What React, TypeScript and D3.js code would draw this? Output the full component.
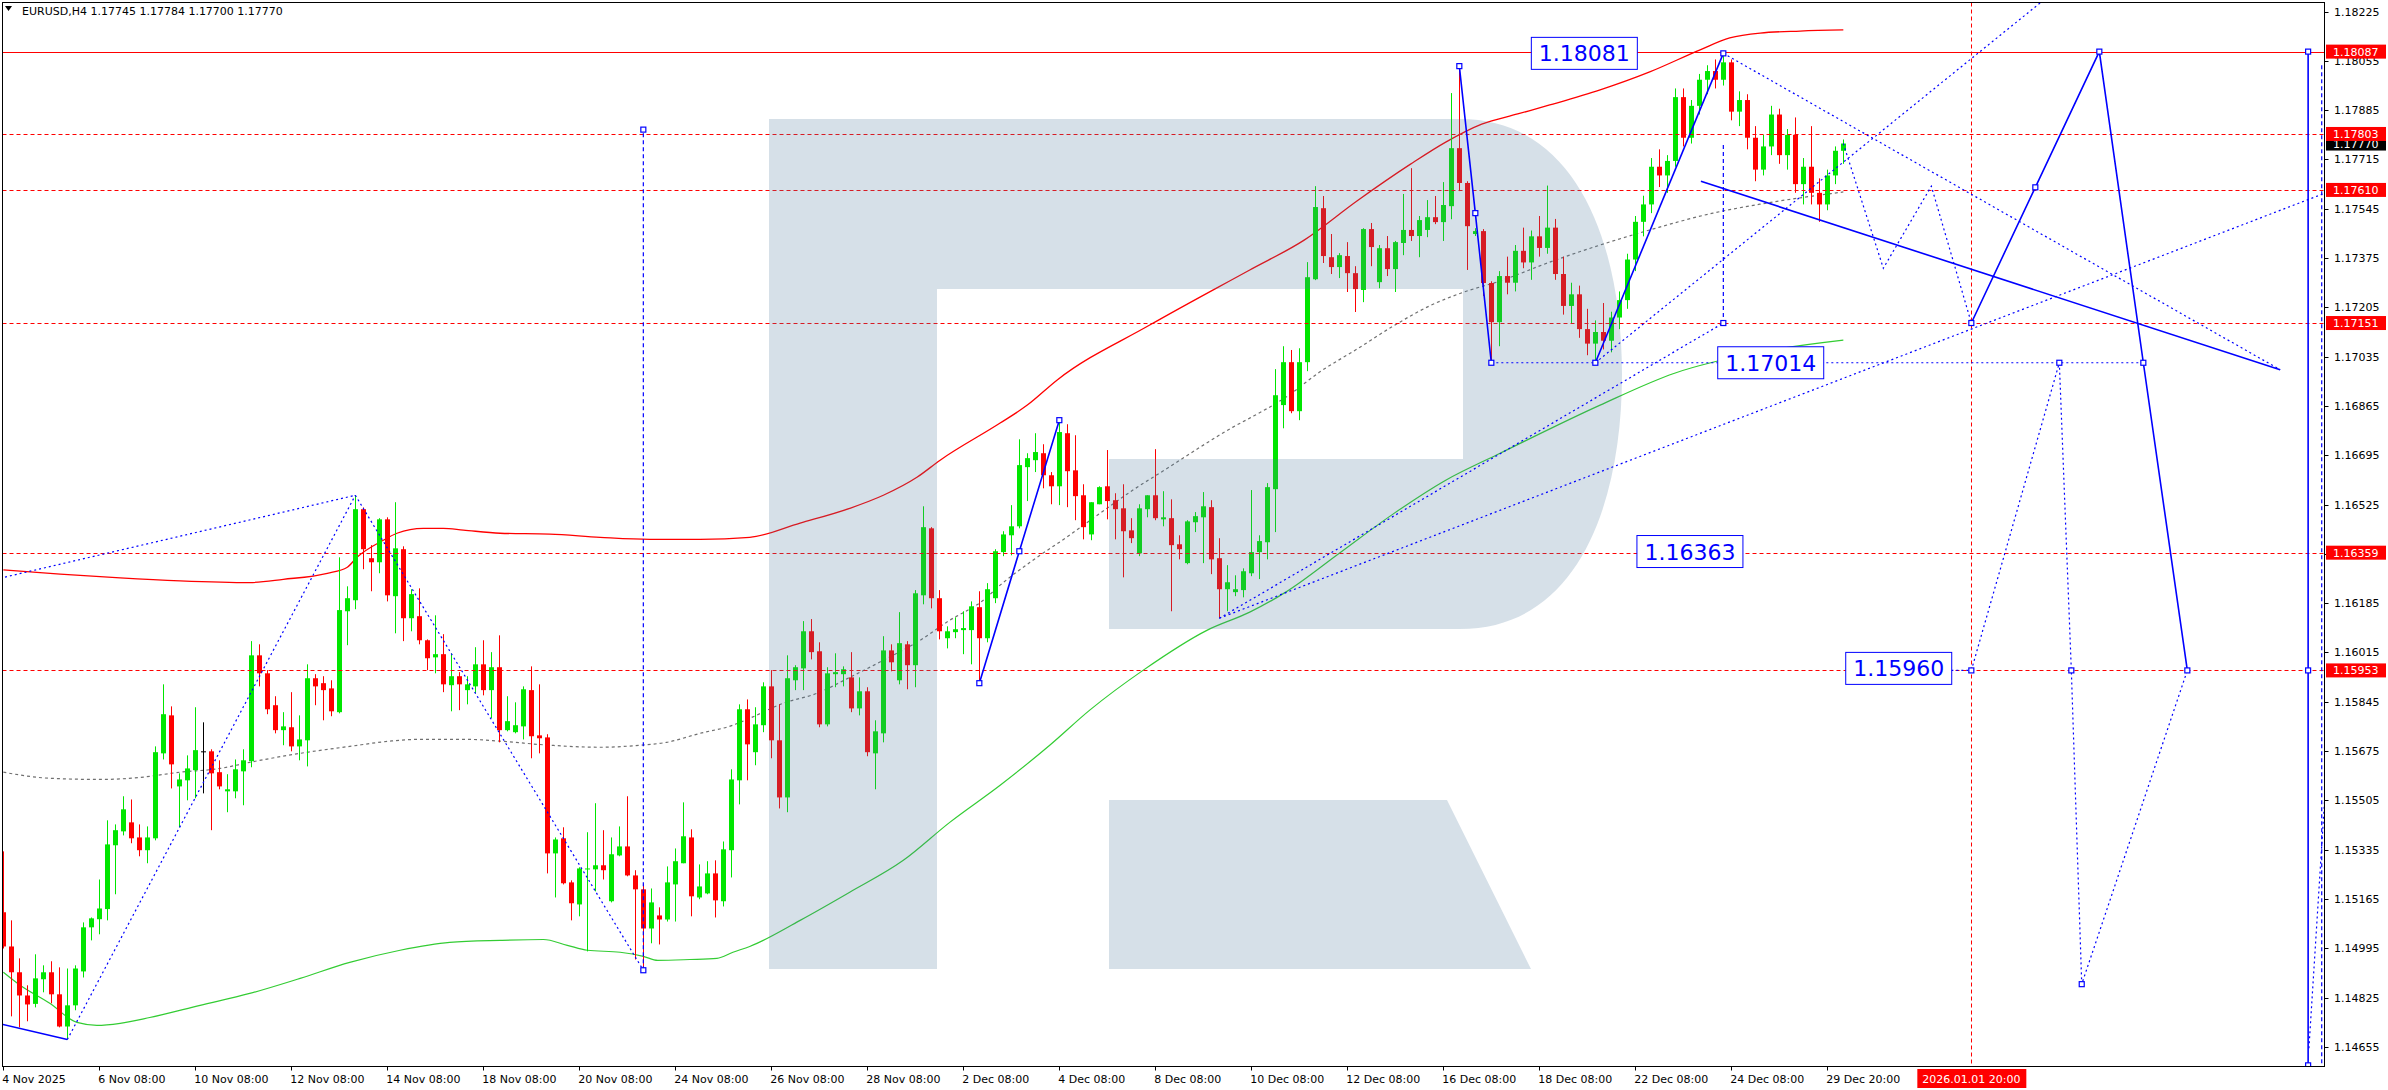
import React from 'react';
import * as d3 from 'd3';

const W = 2388;
const H = 1090;

// ---- candle data (H4 bars, index 0 = 4 Nov 2025 08:00) ----
const opens = [
1.15119,1.15001,1.14912,1.14832,1.14803,1.14888,1.14912,1.14836,1.14725,1.14798,
1.14915,1.15067,1.15095,1.15130,1.15350,1.15398,1.15429,1.15377,1.15333,1.15374,
1.15667,1.15798,1.15553,1.15574,1.15609,1.15674,1.15674,1.15602,1.15536,1.15536,
1.15605,1.15640,1.16005,1.15943,1.15833,1.15747,1.15757,1.15691,1.15712,1.15926,
1.15909,1.15891,1.15809,1.16157,1.16195,1.16509,1.16340,1.16326,1.16474,1.16209,
1.16371,1.16133,1.16140,1.16057,1.15998,1.16009,1.15902,1.15933,1.15885,1.15898,
1.15974,1.15885,1.15964,1.15747,1.15740,1.15760,1.15885,1.15729,1.15722,1.15322,
1.15374,1.15222,1.15146,1.15267,1.15267,1.15281,1.15157,1.15315,1.15346,1.15246,
1.15198,1.15063,1.15108,1.15094,1.15215,1.15288,1.15377,1.15170,1.15184,1.15253,
1.15157,1.15333,1.15574,1.15819,1.15671,1.15764,1.15898,1.15712,1.15515,1.15919,
1.15960,1.16088,1.16019,1.15767,1.15940,1.15940,1.15929,1.15822,1.15881,1.15667,
1.15736,1.16022,1.15919,1.16043,1.15971,1.16212,1.16443,1.16202,1.16064,1.16085,
1.16092,1.16092,1.16171,1.16064,1.16202,1.16361,1.16419,1.16450,1.16654,1.16678,
1.16702,1.16626,1.16588,1.16771,1.16643,1.16557,1.16422,1.16526,1.16588,1.16540,
1.16512,1.16436,1.16357,1.16509,1.16557,1.16474,1.16478,1.16388,1.16323,1.16464,
1.16481,1.16516,1.16340,1.16233,1.16223,1.16230,1.16288,1.16361,1.16395,1.16578,
1.16868,1.17016,1.16847,1.17016,1.17302,1.17547,1.17378,1.17344,1.17382,1.17323,
1.17265,1.17475,1.17292,1.17409,1.17337,1.17427,1.17472,1.17451,1.17472,1.17516,
1.17499,1.17554,1.17754,1.17634,1.17458,1.17468,1.17289,1.17154,1.17313,1.17290,
1.17400,1.17360,1.17450,1.17410,1.17480,1.17320,1.17210,1.17250,1.17130,1.17080,
1.17120,1.17090,1.17170,1.17230,1.17370,1.17500,1.17560,1.17690,1.17660,1.17710,
1.17930,1.17790,1.17900,1.17990,1.18020,1.17990,1.18050,1.17880,1.17920,1.17790,
1.17680,1.17760,1.17870,1.17730,1.17800,1.17630,1.17690,1.17600,1.17560,1.17660,
1.17745];
const highs = [
1.15329,1.15091,1.14960,1.14867,1.14974,1.14936,1.14950,1.14929,1.14925,1.14936,
1.15084,1.15101,1.15232,1.15436,1.15422,1.15519,1.15508,1.15422,1.15415,1.15691,
1.15905,1.15829,1.15598,1.15660,1.15826,1.15774,1.15681,1.15643,1.15595,1.15646,
1.15681,1.16054,1.16043,1.15954,1.15864,1.15809,1.15878,1.15798,1.15974,1.15940,
1.15933,1.15919,1.16343,1.16243,1.16557,1.16515,1.16385,1.16478,1.16481,1.16533,
1.16381,1.16233,1.16236,1.16060,1.16143,1.16078,1.16012,1.15947,1.15933,1.16033,
1.16057,1.16016,1.16074,1.15864,1.15843,1.15898,1.15967,1.15905,1.15733,1.15377,
1.15412,1.15229,1.15274,1.15395,1.15495,1.15402,1.15377,1.15415,1.15519,1.15264,
1.15215,1.15201,1.15136,1.15277,1.15339,1.15498,1.15405,1.15284,1.15295,1.15298,
1.15363,1.15612,1.15836,1.15853,1.15826,1.15912,1.15954,1.15836,1.16005,1.15971,
1.16123,1.16130,1.16050,1.15964,1.16012,1.15967,1.16016,1.15929,1.15895,1.15781,
1.16071,1.16043,1.16154,1.16054,1.16230,1.16519,1.16447,1.16230,1.16105,1.16136,
1.16157,1.16191,1.16226,1.16254,1.16371,1.16433,1.16523,1.16750,1.16702,1.16771,
1.16733,1.16637,1.16816,1.16802,1.16764,1.16595,1.16533,1.16588,1.16713,1.16564,
1.16595,1.16478,1.16526,1.16557,1.16716,1.16571,1.16543,1.16419,1.16471,1.16499,
1.16568,1.16540,1.16409,1.16316,1.16281,1.16305,1.16575,1.16419,1.16599,1.16992,
1.17071,1.17058,1.17064,1.17361,1.17623,1.17589,1.17458,1.17392,1.17430,1.17347,
1.17478,1.17496,1.17420,1.17451,1.17434,1.17596,1.17685,1.17520,1.17575,1.17589,
1.17637,1.17944,1.18037,1.17640,1.17478,1.17475,1.17295,1.17330,1.17380,1.17420,
1.17480,1.17470,1.17520,1.17625,1.17510,1.17380,1.17290,1.17280,1.17200,1.17160,
1.17220,1.17190,1.17260,1.17390,1.17520,1.17590,1.17720,1.17750,1.17730,1.17960,
1.17960,1.17920,1.18010,1.18040,1.18060,1.18081,1.18060,1.17950,1.17940,1.17830,
1.17800,1.17900,1.17890,1.17820,1.17860,1.17720,1.17830,1.17650,1.17680,1.17760,
1.17784];
const lows = [
1.14994,1.14760,1.14722,1.14743,1.14791,1.14843,1.14805,1.14722,1.14680,1.14781,
1.14894,1.15022,1.15043,1.15091,1.15181,1.15384,1.15357,1.15312,1.15288,1.15367,
1.15646,1.15546,1.15412,1.15505,1.15512,1.15529,1.15402,1.15543,1.15464,1.15512,
1.15488,1.15619,1.15898,1.15802,1.15736,1.15695,1.15674,1.15643,1.15622,1.15833,
1.15781,1.15795,1.15805,1.16040,1.16164,1.16302,1.16226,1.16288,1.16191,1.16081,
1.16054,1.16088,1.16043,1.15954,1.15943,1.15878,1.15812,1.15816,1.15836,1.15874,
1.15867,1.15788,1.15705,1.15743,1.15736,1.15715,1.15650,1.15667,1.15253,1.15170,
1.15215,1.15091,1.15105,1.14984,1.15191,1.15232,1.15153,1.15312,1.15243,1.14956,
1.14919,1.15012,1.15008,1.15087,1.15087,1.15288,1.15105,1.15164,1.15181,1.15101,
1.15139,1.15239,1.15491,1.15574,1.15626,1.15740,1.15650,1.15477,1.15464,1.15885,
1.15885,1.15991,1.15757,1.15760,1.15895,1.15898,1.15809,1.15798,1.15657,1.15543,
1.15705,1.15950,1.15905,1.15888,1.15895,1.16181,1.16167,1.16060,1.16029,1.16064,
1.16009,1.15974,1.15909,1.16050,1.16185,1.16347,1.16350,1.16443,1.16537,1.16637,
1.16581,1.16526,1.16523,1.16516,1.16471,1.16405,1.16402,1.16526,1.16474,1.16405,
1.16274,1.16392,1.16347,1.16481,1.16471,1.16450,1.16157,1.16336,1.16319,1.16430,
1.16323,1.16285,1.16133,1.16157,1.16209,1.16205,1.16278,1.16268,1.16336,1.16430,
1.16788,1.16840,1.16816,1.16985,1.17299,1.17358,1.17320,1.17306,1.17258,1.17189,
1.17223,1.17347,1.17271,1.17313,1.17258,1.17385,1.17434,1.17378,1.17447,1.17492,
1.17434,1.17509,1.17606,1.17334,1.17451,1.17244,1.17014,1.17071,1.17250,1.17260,
1.17340,1.17300,1.17380,1.17390,1.17300,1.17180,1.17150,1.17100,1.17040,1.17014,
1.17060,1.17050,1.17130,1.17200,1.17330,1.17450,1.17530,1.17620,1.17600,1.17690,
1.17760,1.17770,1.17870,1.17940,1.17960,1.17970,1.17850,1.17830,1.17750,1.17640,
1.17660,1.17730,1.17700,1.17680,1.17600,1.17560,1.17560,1.17500,1.17540,1.17630,
1.17700];
const closes = [
1.15001,1.14912,1.14832,1.14801,1.14891,1.14912,1.14836,1.14725,1.14798,1.14925,
1.15067,1.15098,1.15132,1.15353,1.15402,1.15474,1.15374,1.15333,1.15377,1.15671,
1.15802,1.15629,1.15577,1.15615,1.15678,1.15674,1.15598,1.15553,1.15543,1.15612,
1.15643,1.16005,1.15943,1.15819,1.15747,1.15760,1.15691,1.15715,1.15926,1.15898,
1.15885,1.15812,1.16161,1.16202,1.16509,1.16371,1.16326,1.16474,1.16212,1.16374,
1.16133,1.16216,1.16057,1.15995,1.16009,1.15905,1.15933,1.15905,1.15905,1.15974,
1.15885,1.15964,1.15747,1.15778,1.15764,1.15888,1.15726,1.15719,1.15322,1.15370,
1.15219,1.15150,1.15270,1.15270,1.15281,1.15264,1.15319,1.15346,1.15246,1.15198,
1.15063,1.15153,1.15094,1.15222,1.15295,1.15381,1.15174,1.15208,1.15253,1.15160,
1.15336,1.15577,1.15819,1.15698,1.15767,1.15898,1.15712,1.15515,1.15926,1.15964,
1.16088,1.16016,1.15767,1.15943,1.15947,1.15957,1.15822,1.15881,1.15671,1.15743,
1.16022,1.15981,1.16047,1.15971,1.16219,1.16447,1.16202,1.16088,1.16088,1.16095,
1.16099,1.16174,1.16064,1.16233,1.16364,1.16422,1.16450,1.16661,1.16685,1.16706,
1.16626,1.16588,1.16775,1.16640,1.16554,1.16447,1.16533,1.16585,1.16537,1.16509,
1.16433,1.16409,1.16512,1.16557,1.16478,1.16481,1.16385,1.16371,1.16467,1.16485,
1.16519,1.16336,1.16233,1.16257,1.16233,1.16295,1.16361,1.16399,1.16585,1.16902,
1.17016,1.16847,1.17016,1.17309,1.17551,1.17382,1.17344,1.17385,1.17323,1.17268,
1.17475,1.17413,1.17409,1.17337,1.17430,1.17472,1.17451,1.17506,1.17516,1.17499,
1.17558,1.17754,1.17634,1.17485,1.17468,1.17289,1.17154,1.17313,1.17290,1.17400,
1.17360,1.17450,1.17410,1.17480,1.17320,1.17210,1.17250,1.17130,1.17080,1.17120,
1.17090,1.17170,1.17230,1.17370,1.17500,1.17560,1.17690,1.17660,1.17710,1.17930,
1.17790,1.17900,1.17990,1.18020,1.17990,1.18050,1.17880,1.17920,1.17790,1.17680,
1.17760,1.17870,1.17730,1.17800,1.17630,1.17690,1.17600,1.17560,1.17660,1.17745,
1.17770];

// ---- indicator bands: [bar index, price] ----
const upperBand = [
[0,1.16300],[7.1,1.16285],[14.6,1.16272],[22.1,1.16262],[30.8,1.16256],[35,1.16267],
[40.5,1.16288],[43,1.16309],[44.2,1.16343],[47.5,1.16402],[49.2,1.16426],[52.5,1.16443],
[55,1.16443],[57.5,1.16437],[62.1,1.16426],[68.3,1.16423],[74.6,1.16412],[80.8,1.16405],
[87.1,1.16405],[93.3,1.16412],[99.6,1.16461],[105.8,1.16512],[110,1.16557],[114.2,1.16619],
[117.1,1.16678],[124.6,1.16806],[128,1.16868],[131.7,1.16954],[143.3,1.17144],[155.8,1.17334],
[162.6,1.17437],[169.2,1.17572],[175.9,1.17699],[180.3,1.17775],[184.8,1.17837],[189.3,1.17872],
[193.3,1.17903],[199.6,1.17955],[205.8,1.18017],[212.1,1.18093],[215.8,1.18134],[219.6,1.18151],
[224.6,1.18158],[230,1.18162]];
const middleBand = [
[0,1.15602],[5.8,1.15581],[12.1,1.15577],[17.1,1.15584],[22.1,1.15602],[27.1,1.15615],
[30.8,1.15636],[37.1,1.15667],[43.3,1.15691],[48.3,1.15709],[51.7,1.15715],[58.3,1.15715],
[62.1,1.15709],[68.3,1.15695],[74.6,1.15688],[79.6,1.15695],[82.9,1.15705],[87.1,1.15736],
[91.2,1.15764],[93.3,1.15788],[97.5,1.15840],[101.7,1.15874],[105.8,1.15929],[110,1.15988],
[114.2,1.16050],[118.3,1.16126],[122.5,1.16195],[124.6,1.16247],[128.7,1.16333],[132.9,1.16412],
[137.1,1.16495],[141.2,1.16575],[145.5,1.16650],[149.6,1.16723],[153.7,1.16792],[155.8,1.16823],
[160.3,1.16895],[164.7,1.16985],[169.2,1.17061],[173.7,1.17140],[178.2,1.17209],[182.6,1.17258],
[187.1,1.17296],[193.3,1.17361],[199.6,1.17420],[205.8,1.17472],[213.7,1.17530],[219.6,1.17561],
[230,1.17603]];
const lowerBand = [
[0,1.14912],[2.1,1.14867],[5.8,1.14805],[9.2,1.14739],[11.7,1.14729],[14.6,1.14736],
[18.3,1.14756],[24.6,1.14798],[30.8,1.14839],[37.1,1.14891],[43.3,1.14946],[49.6,1.14988],
[55.8,1.15015],[62.1,1.15022],[67.5,1.15025],[70.5,1.15005],[73,1.14988],[77.1,1.14981],
[80,1.14967],[81.8,1.14953],[85.8,1.14956],[89.2,1.14960],[91.2,1.14981],[93.3,1.15001],
[99.6,1.15091],[105.8,1.15188],[112.5,1.15298],[118.3,1.15429],[124.6,1.15557],[130.8,1.15695],
[135.8,1.15816],[142.5,1.15954],[150.5,1.16092],[155.8,1.16154],[160.3,1.16223],[167,1.16357],
[173.7,1.16492],[180.3,1.16609],[187.1,1.16702],[199.6,1.16868],[208.9,1.16978],[219.6,1.17051],
[230,1.17092]];

// ---- levels ----
const levelPrices = [1.18087, 1.17803, 1.17610, 1.17151, 1.16359, 1.15953];
const levelSolid = [true, false, false, false, false, false];
const currentPrice = 1.17770;
const futureBar = 246;
const futureLabel = '2026.01.01 20:00';

// ---- axis ticks ----
const priceTicks = d3.range(22).map((k) => +(1.14655 + 0.0017 * k).toFixed(5));
const timeTickBars = [0,12,24,36,48,60,72,84,96,108,120,132,144,156,168,180,192,204,216,228];
const timeTickLabels = ['4 Nov 2025','6 Nov 08:00','10 Nov 08:00','12 Nov 08:00','14 Nov 08:00',
'18 Nov 08:00','20 Nov 08:00','24 Nov 08:00','26 Nov 08:00','28 Nov 08:00','2 Dec 08:00',
'4 Dec 08:00','8 Dec 08:00','10 Dec 08:00','12 Dec 08:00','16 Dec 08:00','18 Dec 08:00',
'22 Dec 08:00','24 Dec 08:00','29 Dec 20:00'];

// ---- analysis drawings: [bar index, price] ----
const dottedLines = [
  [[-0.4,1.16271],[44,1.16557]],
  [[44,1.16557],[80,1.14919]],
  [[8,1.14680],[44,1.16557]],
  [[152,1.16133],[290.2,1.17599]],
  [[152,1.16133],[215,1.17151]],
  [[186,1.17014],[267.5,1.17014]],
  [[215,1.18081],[284.6,1.16990]],
  [[199,1.17014],[254.7,1.18257]],
  [[230,1.17770],[235,1.17340],[241,1.17623],[246,1.17151]],
  [[243.5,1.15953],[246,1.15953]],
  [[246,1.15953],[257,1.17014],[258.5,1.15953],[259.8,1.14871],[273,1.15953]],
  [[288.2,1.14650],[290.3,1.15567]],
];
const dashedLines = [
  [[80,1.14919],[80,1.17818]],
  [[215,1.17765],[215,1.17151]],
  [[289.8,1.18040],[289.8,1.14500]],
];
const solidLines = [
  [[-0.2,1.14733],[8,1.14680]],
  [[122,1.15909],[127,1.16364],[132,1.16816]],
  [[182,1.18037],[184,1.17530],[186,1.17014]],
  [[199,1.17014],[215,1.18081]],
  [[212.2,1.17640],[284.6,1.16990]],
  [[246,1.17151],[254,1.17619],[262,1.18087],[267.5,1.17014],[273,1.15953]],
  [[288.1,1.18087],[288.1,1.14591]],
];
const squarePoints = [
  [80,1.14919],[80,1.17818],[122,1.15909],[127,1.16364],[132,1.16816],
  [182,1.18037],[184,1.17530],[186,1.17014],[199,1.17014],[215,1.18081],[215,1.17151],
  [246,1.17151],[254,1.17619],[262,1.18087],[267.5,1.17014],[273,1.15953],
  [246,1.15953],[257,1.17014],[258.5,1.15953],[259.8,1.14871],
  [288.1,1.18087],[288.1,1.15953],[288.1,1.14591],
];
const boxTexts = ['1.18081', '1.17014', '1.16363', '1.15960'];
const boxPrices = [1.18081, 1.17014, 1.16363, 1.15960];
const boxLeftBars = [191, 214.3, 204.2, 230.3];

const headerText = 'EURUSD,H4  1.17745 1.17784 1.17700 1.17770';

const BULL = '#00e600';
const BEAR = '#ff0000';
const BLUE = '#0000ff';
const FONT = "'DejaVu Sans', Tahoma, sans-serif";

export default function App() {
  const x = d3.scaleLinear().domain([0, 290]).range([3.33, 3.33 + 8 * 290]);
  const y = d3.scaleLinear().domain([1.14655, 1.18225]).range([1046.8, 11.6]);

  const PL = 2.5, PT = 2.5, PR = 2324.5, PB = 1066.5;

  const bandLine = d3.line<number[]>()
    .x((d) => x(d[0]))
    .y((d) => y(d[1]))
    .curve(d3.curveMonotoneX);
  const straight = d3.line<number[]>().x((d) => x(d[0])).y((d) => y(d[1]));

  // watermark "R" (decorative, pixel geometry)
  const logoPath = [
    'M769,119 L1460,119 C1580,119 1622,250 1622,374 C1622,500 1580,629 1460,629',
    'L1109,629 L1109,459 L1463,459 L1463,289 L937,289 L937,969 L769,969 Z',
    'M1109,800 L1447,800 L1531,969 L1109,969 Z',
  ].join(' ');

  return (
    <div style={{ position: 'fixed', left: 0, top: 0 }}>
      <svg width={W} height={H} style={{ display: 'block', background: '#ffffff' }} fontFamily={FONT}>
        <defs>
          <clipPath id="plotClip">
            <rect x={PL} y={PT} width={PR - PL} height={PB - PT} />
          </clipPath>
        </defs>
        <rect x={0} y={0} width={W} height={H} fill="#ffffff" />
        <g clipPath="url(#plotClip)">
          {/* bands */}
          <path d={bandLine(upperBand) || ''} fill="none" stroke="#ff0000" strokeWidth={1.3} />
          <path d={bandLine(middleBand) || ''} fill="none" stroke="#707070" strokeWidth={1.2} strokeDasharray="3,3" />
          <path d={bandLine(lowerBand) || ''} fill="none" stroke="#33cc33" strokeWidth={1.2} />

          {/* candles */}
          {opens.map((o, i) => {
            const c = closes[i];
            const hi = highs[i];
            const lo = lows[i];
            const cx = Math.round(x(i));
            const color = c > o ? BULL : c < o ? BEAR : '#000000';
            const yTop = y(Math.max(o, c));
            const yBot = y(Math.min(o, c));
            return (
              <g key={i}>
                <line x1={cx + 0.5} x2={cx + 0.5} y1={y(hi)} y2={y(lo)} stroke={color} strokeWidth={1} />
                <rect x={cx - 2} y={yTop} width={5} height={Math.max(1, yBot - yTop)} fill={color} />
              </g>
            );
          })}

          {/* red levels */}
          {levelPrices.map((p, k) => (
            <line key={k} x1={PL} x2={PR} y1={Math.round(y(p)) + 0.5} y2={Math.round(y(p)) + 0.5}
              stroke="#ff0000" strokeWidth={1} strokeDasharray={levelSolid[k] ? undefined : '4,3'} />
          ))}
          <line x1={Math.round(x(futureBar)) + 0.5} x2={Math.round(x(futureBar)) + 0.5} y1={PT} y2={PB}
            stroke="#ff0000" strokeWidth={1} strokeDasharray="4,3" />

          {/* watermark */}
          <path d={logoPath} fill="rgb(78,121,156)" fillOpacity={0.23} fillRule="nonzero" />

          {/* analysis drawings */}
          {dottedLines.map((pts, k) => (
            <path key={'d' + k} d={straight(pts) || ''} fill="none" stroke={BLUE} strokeWidth={1.2} strokeDasharray="2,3" />
          ))}
          {dashedLines.map((pts, k) => (
            <path key={'s' + k} d={straight(pts) || ''} fill="none" stroke={BLUE} strokeWidth={1.2} strokeDasharray="4,3" />
          ))}
          {solidLines.map((pts, k) => (
            <path key={'l' + k} d={straight(pts) || ''} fill="none" stroke={BLUE} strokeWidth={1.6} />
          ))}
          {squarePoints.map((p, k) => (
            <rect key={'q' + k} x={x(p[0]) - 2.5} y={y(p[1]) - 2.5} width={5} height={5}
              fill="#ffffff" stroke={BLUE} strokeWidth={1.2} />
          ))}

          {/* level boxes */}
          {boxTexts.map((t, k) => {
            const bx = x(boxLeftBars[k]);
            const by = y(boxPrices[k]);
            return (
              <g key={'b' + k}>
                <rect x={bx} y={by - 16} width={106} height={32} fill="#ffffff" stroke={BLUE} strokeWidth={1} />
                <text x={bx + 53} y={by + 8} textAnchor="middle" fontSize={22} fill={BLUE}>{t}</text>
              </g>
            );
          })}
        </g>

        {/* header */}
        <path d="M5,6 L12,6 L8.5,11 Z" fill="#000000" />
        <text x={22} y={15} fontSize={11} fill="#000000">{headerText}</text>

        {/* frame */}
        <rect x={PL} y={PT} width={PR - PL} height={PB - PT} fill="none" stroke="#000000" strokeWidth={1} />

        {/* price axis */}
        {priceTicks.map((p, k) => (
          <g key={'pt' + k}>
            <line x1={PR} x2={PR + 4} y1={Math.round(y(p)) + 0.5} y2={Math.round(y(p)) + 0.5} stroke="#000" />
            <text x={2334} y={y(p) + 4} fontSize={11} fill="#000">{p.toFixed(5)}</text>
          </g>
        ))}
        <g>
          <rect x={2326} y={y(currentPrice) - 7} width={60} height={14} fill="#000000" />
          <text x={2333} y={y(currentPrice) + 4} fontSize={11} fill="#ffffff">{currentPrice.toFixed(5)}</text>
        </g>
        {levelPrices.map((p, k) => (
          <g key={'lv' + k}>
            <rect x={2326} y={y(p) - 7} width={60} height={14} fill="#ff0000" />
            <text x={2333} y={y(p) + 4} fontSize={11} fill="#ffffff">{p.toFixed(5)}</text>
          </g>
        ))}

        {/* time axis */}
        {timeTickBars.map((b, k) => (
          <g key={'tt' + k}>
            <line x1={Math.round(x(b)) + 0.5} x2={Math.round(x(b)) + 0.5} y1={PB} y2={PB + 4} stroke="#000" />
            <text x={x(b) - 1} y={1083} fontSize={11} fill="#000">{timeTickLabels[k]}</text>
          </g>
        ))}
        <g>
          <rect x={x(futureBar) - 54} y={1069} width={109} height={19} fill="#ff0000" />
          <text x={x(futureBar)} y={1083} fontSize={11} fill="#ffffff" textAnchor="middle">{futureLabel}</text>
        </g>
      </svg>
    </div>
  );
}
